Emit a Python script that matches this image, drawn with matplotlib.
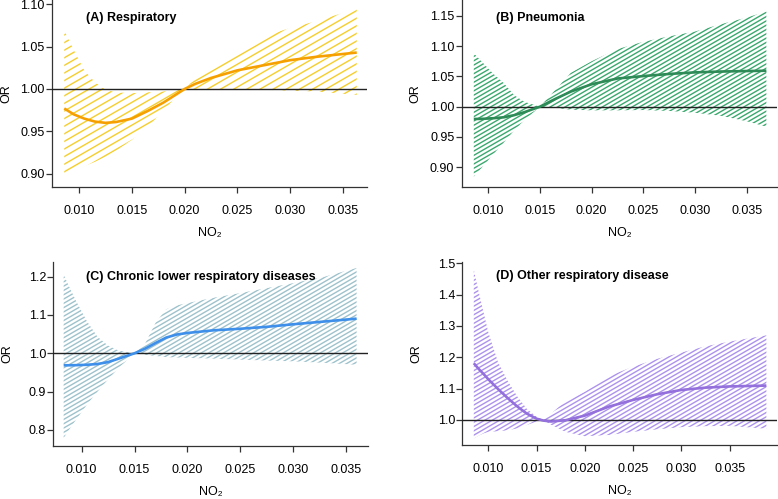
import numpy as np
import matplotlib
matplotlib.use("Agg")
import matplotlib.pyplot as plt
from matplotlib.collections import LineCollection

plt.rcParams['font.family'] = ['Liberation Sans', 'DejaVu Sans']

# (A) Respiratory
x_a = [0.0086, 0.0095, 0.0105, 0.0115, 0.0125, 0.0135, 0.015, 0.0165, 0.018,
       0.019, 0.020, 0.021, 0.0225, 0.025, 0.0275, 0.030, 0.0325, 0.0363]
or_a = [0.977, 0.970, 0.965, 0.9615, 0.960, 0.961, 0.965, 0.974, 0.984,
        0.992, 1.000, 1.006, 1.013, 1.022, 1.028, 1.034, 1.038, 1.043]
hi_a = [1.069, 1.046, 1.022, 1.008, 0.999, 0.996, 0.995, 0.996, 0.997,
        0.999, 1.000, 1.012, 1.025, 1.045, 1.062, 1.072, 1.080, 1.095]
lo_a = [0.898, 0.903, 0.909, 0.914, 0.920, 0.927, 0.940, 0.955, 0.975,
        0.988, 1.000, 1.000, 1.000, 0.999, 0.999, 0.998, 0.997, 0.993]

# (B) Pneumonia
x_b = [0.0086, 0.0095, 0.0105, 0.0115, 0.0125, 0.0135, 0.015, 0.0165, 0.018,
       0.020, 0.0225, 0.025, 0.0275, 0.030, 0.0325, 0.035, 0.0369]
or_b = [0.9797, 0.980, 0.981, 0.9825, 0.986, 0.991, 1.000, 1.013, 1.025,
        1.037, 1.0465, 1.0505, 1.054, 1.0566, 1.058, 1.0588, 1.0593]
hi_b = [1.088, 1.072, 1.054, 1.039, 1.019, 1.008, 1.000, 1.028, 1.056,
        1.075, 1.095, 1.107, 1.116, 1.124, 1.136, 1.147, 1.157]
lo_b = [0.8846, 0.902, 0.922, 0.941, 0.961, 0.978, 1.000, 0.998, 0.995,
        0.994, 0.994, 0.9945, 0.993, 0.990, 0.985, 0.976, 0.967]

# (C) Chronic lower respiratory diseases
x_c = [0.0083, 0.0088, 0.0095, 0.0105, 0.0115, 0.0125, 0.0135, 0.015, 0.016,
       0.017, 0.018, 0.019, 0.020, 0.0225, 0.025, 0.0275, 0.030, 0.033, 0.036]
or_c = [0.9687, 0.9687, 0.969, 0.970, 0.972, 0.977, 0.986, 1.000, 1.012,
        1.027, 1.041, 1.049, 1.053, 1.060, 1.064, 1.069, 1.0757, 1.083, 1.0904]
hi_c = [1.205, 1.175, 1.135, 1.0835, 1.043, 1.020, 1.007, 1.000, 1.025,
        1.080, 1.115, 1.125, 1.131, 1.145, 1.157, 1.170, 1.183, 1.200, 1.2226]
lo_c = [0.779, 0.800, 0.828, 0.866, 0.900, 0.932, 0.962, 1.000, 0.996,
        0.993, 0.990, 0.989, 0.988, 0.986, 0.9835, 0.981, 0.979, 0.975, 0.970]

# (D) Other respiratory disease
x_d = [0.0085, 0.009, 0.0095, 0.010, 0.011, 0.012, 0.013, 0.014, 0.015, 0.0157,
       0.0165, 0.018, 0.020, 0.0225, 0.025, 0.0275, 0.030, 0.0325, 0.035, 0.0388]
or_d = [1.181, 1.163, 1.147, 1.130, 1.099, 1.070, 1.043, 1.020, 1.004, 0.998,
        0.995, 0.999, 1.0138, 1.0426, 1.0638, 1.082, 1.0957, 1.103, 1.107, 1.1096]
hi_d = [1.479, 1.41, 1.345, 1.28, 1.185, 1.125, 1.075, 1.035, 1.010, 1.000,
        1.020, 1.060, 1.090, 1.140, 1.170, 1.195, 1.215, 1.235, 1.250, 1.270]
lo_d = [0.941, 0.950, 0.957, 0.962, 0.964, 0.967, 0.973, 0.984, 0.995, 1.000,
        0.985, 0.962, 0.948, 0.952, 0.962, 0.970, 0.977, 0.980, 0.981, 0.972]

W, H = 778, 499
fig = plt.figure(figsize=(W / 100, H / 100), dpi=100)


def hatch_band(ax, box, x, lo, hi, color, step, angle=30):
    # R-style hatched polygon: diagonal lines clipped to the CI band
    poly = ax.fill_between(x, lo, hi, facecolor='none', edgecolor='none')
    w, h = box[2], box[3]
    slope = np.tan(np.radians(angle))
    offs = np.arange(-w * slope, h + step, step)
    segs = [[(0, c / h), (1, (c + w * slope) / h)] for c in offs]
    lc = LineCollection(segs, colors=color, linewidths=1.0, transform=ax.transAxes)
    lc.set_clip_path(poly.get_paths()[0], ax.transData)
    ax.add_collection(lc, autolim=False)


panels = [
    # (pixel box: left, top, width, height), data, styling
    dict(box=(52, 0, 315, 187), x=x_a, y=or_a, lo=lo_a, hi=hi_a,
         xlim=(0.00744, 0.03727), ylim=(0.8843, 1.105),
         yt=[0.90, 0.95, 1.00, 1.05, 1.10], fmt='%.2f',
         hatch='#F6CE2C', line='#F5A000', step=7.6,
         title='(A) Respiratory', tpos=(0.108, 0.904)),
    dict(box=(461.7, 0, 315.3, 186.7), x=x_b, y=or_b, lo=lo_b, hi=hi_b,
         xlim=(0.00743, 0.03793), ylim=(0.868, 1.176),
         yt=[0.90, 0.95, 1.00, 1.05, 1.10, 1.15], fmt='%.2f',
         hatch='#3AA86E', line='#2E8B57', step=4.3,
         title='(B) Pneumonia', tpos=(0.108, 0.905)),
    dict(box=(53.3, 261.7, 314.4, 184.3), x=x_c, y=or_c, lo=lo_c, hi=hi_c,
         xlim=(0.00732, 0.03705), ylim=(0.758, 1.239),
         yt=[0.8, 0.9, 1.0, 1.1, 1.2], fmt='%.1f',
         hatch='#9EC2CC', line='#3D8FEA', step=4.3,
         title='(C) Chronic lower respiratory diseases', tpos=(0.104, 0.919)),
    dict(box=(462.3, 261.7, 314.7, 183.3), x=x_d, y=or_d, lo=lo_d, hi=hi_d,
         xlim=(0.00731, 0.0399), ylim=(0.92, 1.505),
         yt=[1.0, 1.1, 1.2, 1.3, 1.4, 1.5], fmt='%.1f',
         hatch='#AC92EE', line='#9370DB', step=4.3,
         title='(D) Other respiratory disease', tpos=(0.106, 0.922)),
]

xt = [0.010, 0.015, 0.020, 0.025, 0.030, 0.035]

for p in panels:
    l, t, w, h = p['box']
    ax = fig.add_axes([l / W, 1 - (t + h) / H, w / W, h / H])
    ax.set_xlim(*p['xlim'])
    ax.set_ylim(*p['ylim'])

    hatch_band(ax, p['box'], p['x'], p['lo'], p['hi'], p['hatch'], p['step'])
    ax.axhline(1.0, color='#222222', lw=1.0, zorder=3)
    ax.plot(p['x'], p['y'], color=p['line'], lw=1.9, zorder=4,
            solid_capstyle='butt')

    for s in ['top', 'right']:
        ax.spines[s].set_visible(False)
    for s in ['left', 'bottom']:
        ax.spines[s].set_color('#333333')
        ax.spines[s].set_linewidth(0.9)

    ax.set_xticks(xt)
    ax.set_xticklabels(['%.3f' % v for v in xt])
    ax.set_yticks(p['yt'])
    ax.set_yticklabels([p['fmt'] % v for v in p['yt']])
    ax.tick_params(direction='out', length=4.3, width=0.9, color='#333333',
                   labelsize=9, labelcolor='black')
    ax.tick_params(axis='x', pad=9)
    ax.tick_params(axis='y', pad=1)

    ax.set_xlabel('NO\u2082', fontsize=9)
    ax.xaxis.set_label_coords(0.5, -46 / h)
    ax.xaxis.label.set_va('center')
    ax.set_ylabel('OR', fontsize=9)
    ax.yaxis.set_label_coords(-46 / w, 0.5)
    ax.yaxis.label.set_va('center')

    ax.text(p['tpos'][0], p['tpos'][1], p['title'], transform=ax.transAxes,
            fontsize=9, fontweight='bold', ha='left', va='center')

fig.savefig('out.png', dpi=100)
